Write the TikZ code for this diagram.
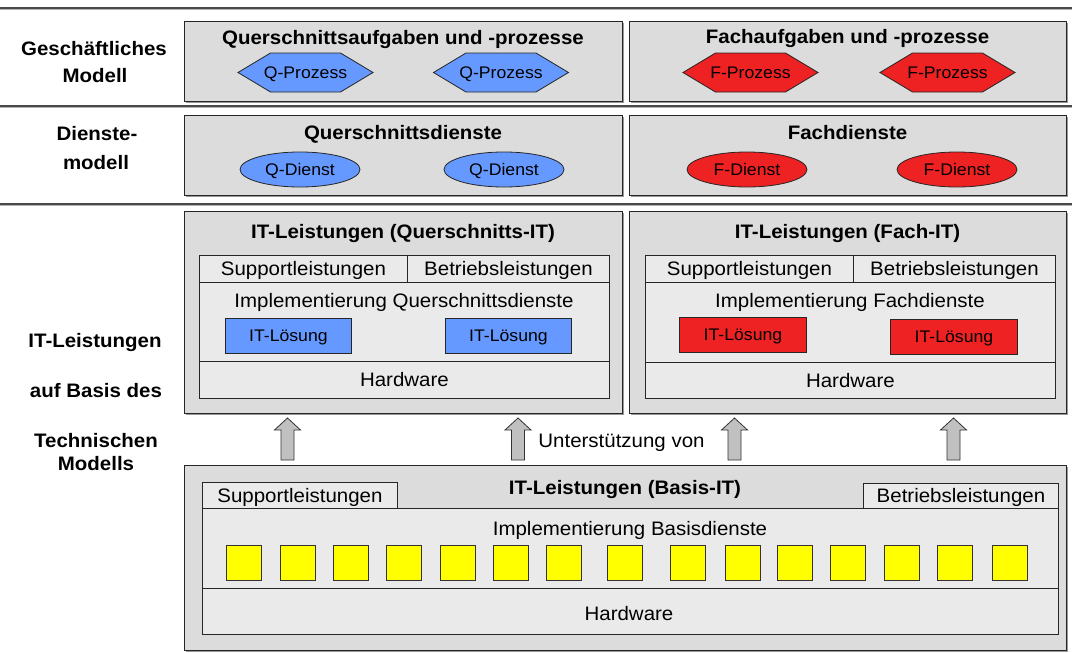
\documentclass[tikz,border=0pt]{standalone}
\usepackage{fontspec}
\setmainfont[FakeStretch=1.05]{Liberation Sans}
\usetikzlibrary{shapes.geometric,shadows,calc}
\definecolor{boxgray}{HTML}{DCDCDC}
\definecolor{panelgray}{HTML}{EAEAEA}
\definecolor{qblue}{HTML}{6699FF}
\definecolor{fred}{HTML}{EE2222}
\definecolor{byellow}{HTML}{FFFF00}
\definecolor{arrowgray}{HTML}{C0C0C0}
\definecolor{sepline}{HTML}{4A4A4A}
\begin{document}
\begin{tikzpicture}[x=1pt,y=-1pt,
  txt/.style={inner sep=0pt, text depth=0pt},
  bigfont/.style={txt, font=\fontsize{19.5}{23}\selectfont, text height=14pt},
  bigbold/.style={txt, font=\fontsize{19.5}{23}\selectfont\bfseries, text height=14pt},
  smallfont/.style={txt, font=\fontsize{16.8}{20}\selectfont, text height=12pt},
  outerbox/.style={draw=black!85, line width=0.9pt, fill=boxgray, anchor=north west, inner sep=0pt,
    drop shadow={shadow xshift=1.6pt, shadow yshift=-1.6pt, opacity=1, fill=black!40}},
  panel/.style={bigfont, draw=black!85, line width=0.9pt, fill=panelgray, anchor=north west},
  solbox/.style={smallfont, draw=black!85, line width=0.9pt, anchor=north west,
    minimum height=35pt, drop shadow={shadow xshift=1pt, shadow yshift=-1pt, opacity=1, fill=black!35}},
  ysq/.style={draw=black!80, line width=0.8pt, fill=byellow, anchor=north west, inner sep=0pt,
    minimum width=35pt, minimum height=35pt, drop shadow={shadow xshift=1pt, shadow yshift=-1pt, opacity=1, fill=black!35}},
  dienst/.style={smallfont, ellipse, draw=black!85, line width=0.8pt, minimum width=120pt, minimum height=35pt},
  hexline/.style={draw=black!85, line width=0.8pt},
  uparrow/.style={draw=black!80, line width=0.8pt, fill=arrowgray},
  sep/.style={draw=sepline, line width=1.4pt},
  sepshadow/.style={draw=black!30, line width=1.2pt}
]
\useasboundingbox (0,0) rectangle (1072,653);
\fill[white] (0,0) rectangle (1072,653);

% separator lines
\foreach \yy in {8,106,204} {
  \draw[sepshadow] (0,\yy+1.6) -- (1072,\yy+1.6);
  \draw[sep] (0,\yy) -- (1072,\yy);
}

% left labels
\node[bigbold] (lg1) at (94,48) {Geschäftliches};
\node[bigbold] (lg2) at (95,75) {Modell};
\node[bigbold] (ld1) at (97,133.5) {Dienste-};
\node[bigbold] (ld2) at (96,162) {modell};
\node[bigbold] (lt1) at (95,340) {IT-Leistungen};
\node[bigbold] (lt2) at (96,390) {auf Basis des};
\node[bigbold] (lt3) at (96,440) {Technischen};
\node[bigbold] (lt4) at (96,463.5) {Modells};

% ---------- business model ----------
\node[outerbox, minimum width=438pt, minimum height=80pt] (qtop) at (184,21) {};
\node[outerbox, minimum width=437pt, minimum height=80pt] (ftop) at (629,21) {};
\node[bigbold] (qtopt) at (403,37) {Querschnittsaufgaben und -prozesse};
\node[bigbold] (ftopt) at (847.5,36.5) {Fachaufgaben und -prozesse};

\newcommand\hexproc[5]{%
  \coordinate (#1) at (#2,#3);
  \filldraw[hexline, fill=#4] ($(#1)+(-67.5,0)$) -- ($(#1)+(-35,-19.5)$) -- ($(#1)+(35,-19.5)$)
     -- ($(#1)+(67.5,0)$) -- ($(#1)+(35,19.5)$) -- ($(#1)+(-35,19.5)$) -- cycle;
  \node[smallfont] (#1t) at ($(#1)+(0,-0.5)$) {#5};}
\hexproc{qp1}{305.5}{72.5}{qblue}{Q-Prozess}
\hexproc{qp2}{501}{72.5}{qblue}{Q-Prozess}
\hexproc{fp1}{750.5}{72.5}{fred}{F-Prozess}
\hexproc{fp2}{947.5}{72.5}{fred}{F-Prozess}

% ---------- service model ----------
\node[outerbox, minimum width=438pt, minimum height=80pt] (qdi) at (184,115) {};
\node[outerbox, minimum width=437pt, minimum height=80pt] (fdi) at (629,115) {};
\node[bigbold] (qdit) at (403,132) {Querschnittsdienste};
\node[bigbold] (fdit) at (847.5,132) {Fachdienste};
\node[dienst, fill=qblue] (qd1) at (300,169.5) {Q-Dienst};
\node[dienst, fill=qblue] (qd2) at (504,169.5) {Q-Dienst};
\node[dienst, fill=fred] (fd1) at (747,169.5) {F-Dienst};
\node[dienst, fill=fred] (fd2) at (957,169.5) {F-Dienst};

% ---------- IT Querschnitt ----------
\node[outerbox, minimum width=438pt, minimum height=202pt] (qit) at (184,211) {};
\node[bigbold] (qitt) at (403,231) {IT-Leistungen (Querschnitts-IT)};
\node[panel, minimum width=208pt, minimum height=27pt] (qsup) at (199,255) {Supportleistungen};
\node[panel, minimum width=202pt, minimum height=27pt] (qbet) at (407,255) {Betriebsleistungen};
\node[panel, minimum width=410pt, minimum height=79pt] (qimp) at (199,282) {};
\node[panel, minimum width=410pt, minimum height=37pt] (qhw) at (199,361) {Hardware};
\node[bigfont] (qimpt) at (404,300.5) {Implementierung Querschnittsdienste};
\node[solbox, fill=qblue, minimum width=126pt] (qs1) at (225,318) {IT-Lösung};
\node[solbox, fill=qblue, minimum width=126pt] (qs2) at (445,318) {IT-Lösung};

% ---------- IT Fach ----------
\node[outerbox, minimum width=437pt, minimum height=202pt] (fit) at (629,211) {};
\node[bigbold] (fitt) at (847.5,231) {IT-Leistungen (Fach-IT)};
\node[panel, minimum width=208pt, minimum height=27pt] (fsup) at (645,255) {Supportleistungen};
\node[panel, minimum width=202pt, minimum height=27pt] (fbet) at (853,255) {Betriebsleistungen};
\node[panel, minimum width=410pt, minimum height=80pt] (fimp) at (645,282) {};
\node[panel, minimum width=410pt, minimum height=36pt] (fhw) at (645,362) {Hardware};
\node[bigfont] (fimpt) at (850,300.5) {Implementierung Fachdienste};
\node[solbox, fill=fred, minimum width=127pt] (fs1) at (679,317) {IT-Lösung};
\node[solbox, fill=fred, minimum width=127pt] (fs2) at (890,319) {IT-Lösung};

% ---------- Basis IT ----------
\node[outerbox, minimum width=882pt, minimum height=185pt] (bas) at (184,465) {};
\node[bigbold] (bast) at (625,487) {IT-Leistungen (Basis-IT)};
\node[panel, minimum width=195pt, minimum height=26pt] (bsup) at (202,482) {Supportleistungen};
\node[panel, minimum width=195pt, minimum height=25pt] (bbet) at (863,483) {Betriebsleistungen};
\node[panel, minimum width=856pt, minimum height=80pt] (bimp) at (202,508) {};
\node[panel, minimum width=856pt, minimum height=46pt] (bhw) at (202,588) {};
\node[bigfont] (bhwt) at (629,613) {Hardware};
\node[bigfont] (bimpt) at (630,528) {Implementierung Basisdienste};
\foreach \xx [count=\i] in {225.5,279.5,332.5,386,440,492.5,546,607,670,724.5,777,830,883.5,937,991.5} {
  \node[ysq] (y\i) at (\xx,545) {};
}

% ---------- support arrows ----------
\foreach \n/\c in {1/287.5,2/518,3/734.5,4/953.5} {
  \coordinate (ab\n) at (\c,460);
  \coordinate (at\n) at (\c,418);
  \filldraw[uparrow] ($(ab\n)+(-6.5,0)$) -- ($(ab\n)+(-6.5,-30)$) -- ($(ab\n)+(-13,-30)$) -- (at\n)
     -- ($(ab\n)+(13,-30)$) -- ($(ab\n)+(6.5,-30)$) -- ($(ab\n)+(6.5,0)$) -- cycle;
}
\node[bigfont] (unt) at (621.5,440) {Unterstützung von};
\end{tikzpicture}
\end{document}
